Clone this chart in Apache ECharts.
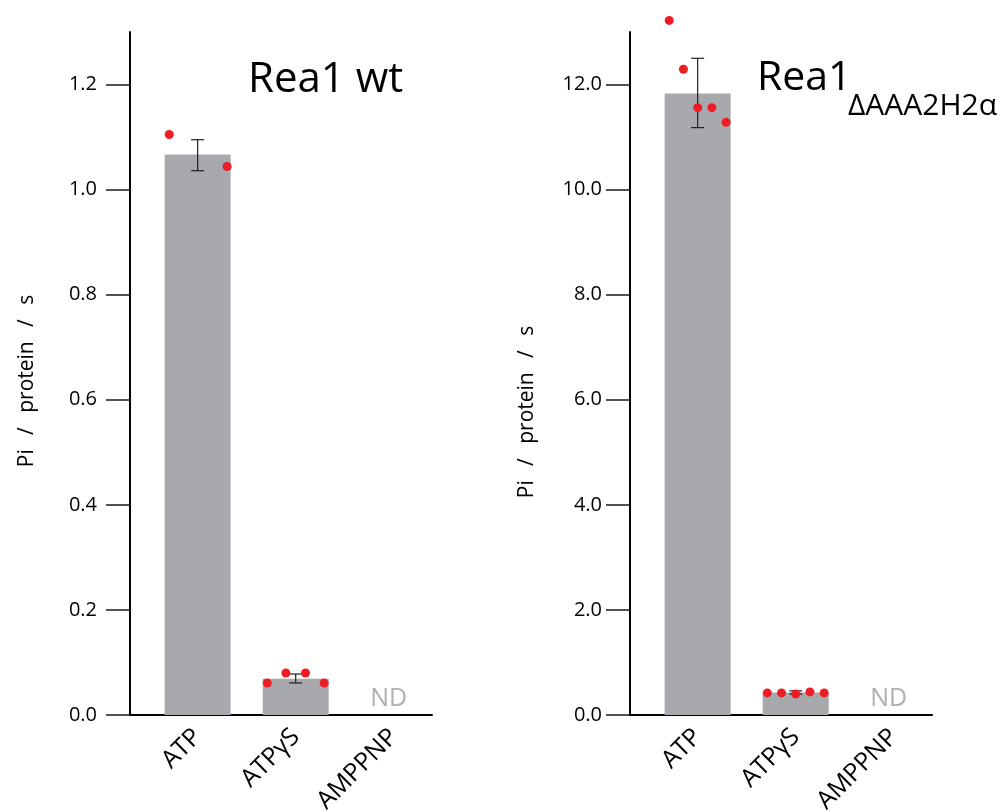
<!DOCTYPE html>
<html>
<head>
<meta charset="utf-8">
<script src="https://cdn.jsdelivr.net/npm/echarts@6/dist/echarts.min.js"></script>
<style>
  html, body { margin: 0; padding: 0; background: #fff; }
  #chart { width: 1004px; height: 812px; }
</style>
</head>
<body>
<div id="chart"></div>
<script>
// ---------- data ----------
const categories = ['ATP', 'ATPγS', 'AMPPNP'];

// Panel 1: Rea1 wt
const wtMean = [1.067, 0.069, null];
const wtErrLow = [1.036, 0.061, null];
const wtErrHigh = [1.095, 0.078, null];
const wtDotCat = [0, 0, 1, 1, 1, 1];
const wtDotJitter = [-0.29, 0.30, -0.29, -0.10, 0.10, 0.29];
const wtDotValue = [1.105, 1.044, 0.061, 0.080, 0.080, 0.061];
const wtTicks = [0, 0.2, 0.4, 0.6, 0.8, 1.0, 1.2];

// Panel 2: Rea1 ΔAAA2H2α
const muMean = [11.83, 0.43, null];
const muErrLow = [11.18, 0.40, null];
const muErrHigh = [12.50, 0.46, null];
const muDotCat = [0, 0, 0, 0, 0, 1, 1, 1, 1, 1];
const muDotJitter = [-0.29, -0.145, 0, 0.145, 0.29, -0.29, -0.145, 0, 0.145, 0.29];
const muDotValue = [13.22, 12.29, 11.56, 11.56, 11.28, 0.42, 0.42, 0.40, 0.44, 0.42];
const muTicks = [0, 2, 4, 6, 8, 10, 12];

const yName = 'Pi  \u2009/  \u2009protein  \u2009/  \u2009s';
const ndText = 'ND';

// ---------- layout / style ----------
const FONT = '"Open Sans", "Noto Sans", sans-serif';
const firstPos = 0.69;        // category centre of first bar on the x value axis
const xMax = 3.08;
const barColor = '#a7a9ac';
const dotColor = '#ee1c25';
const errColor = '#231f20';

const pos = i => firstPos + i;

function barData(mean) {
  return mean.map((v, i) => v == null ? null : [pos(i), v]).filter(d => d);
}
function errData(lo, hi) {
  return lo.map((v, i) => v == null ? null : [pos(i), v, hi[i]]).filter(d => d);
}
function dotData(cat, jit, val) {
  return cat.map((c, i) => [pos(c) + jit[i], val[i]]);
}
function ndData(mean) {
  return mean.map((v, i) => v == null ? [pos(i), 0] : null).filter(d => d);
}

function errRender(params, api) {
  const x = api.value(0);
  const a = api.coord([x, api.value(1)]);
  const b = api.coord([x, api.value(2)]);
  const c = 6.5;
  const st = { stroke: errColor, lineWidth: 1.2 };
  return {
    type: 'group',
    children: [
      { type: 'line', shape: { x1: a[0], y1: a[1], x2: b[0], y2: b[1] }, style: st },
      { type: 'line', shape: { x1: a[0] - c, y1: a[1], x2: a[0] + c, y2: a[1] }, style: st },
      { type: 'line', shape: { x1: b[0] - c, y1: b[1], x2: b[0] + c, y2: b[1] }, style: st }
    ]
  };
}

function xAxisDef(gridIndex) {
  return {
    type: 'value', gridIndex, min: 0, max: xMax,
    axisLine: { show: true, onZero: false, lineStyle: { color: '#000', width: 2 } },
    axisTick: { show: false },
    splitLine: { show: false },
    axisLabel: {
      customValues: categories.map((c, i) => pos(i)),
      rotate: 45, margin: 18, padding: [12, 0, 0, 0],
      fontFamily: FONT, fontSize: 25, color: '#000',
      formatter: v => categories[Math.round(v - firstPos)]
    }
  };
}

function yAxisDef(gridIndex, max, ticks, labelMargin, padRight) {
  return {
    type: 'value', gridIndex, min: 0, max,
    name: yName, nameLocation: 'middle', nameGap: 92,
    nameTextStyle: { fontFamily: FONT, fontSize: 21, color: '#000', padding: [0, padRight, 0, 0] },
    axisLine: { show: true, lineStyle: { color: '#000', width: 2 } },
    axisTick: { show: true, inside: false, length: 24, customValues: ticks,
                lineStyle: { color: '#1a1a1a', width: 1.5 } },
    splitLine: { show: false },
    axisLabel: {
      customValues: ticks, margin: labelMargin,
      fontFamily: FONT, fontSize: 20, color: '#000',
      formatter: v => v.toFixed(1)
    }
  };
}

function panelSeries(idx, mean, lo, hi, cat, jit, val) {
  return [
    {
      type: 'bar', xAxisIndex: idx, yAxisIndex: idx, barWidth: 66,
      itemStyle: { color: barColor }, data: barData(mean)
    },
    {
      type: 'custom', xAxisIndex: idx, yAxisIndex: idx, renderItem: errRender,
      encode: { x: 0, y: [1, 2] }, data: errData(lo, hi), z: 3
    },
    {
      type: 'scatter', xAxisIndex: idx, yAxisIndex: idx, symbolSize: 9, clip: false,
      itemStyle: { color: dotColor, opacity: 1 }, data: dotData(cat, jit, val), z: 4
    },
    {
      type: 'scatter', xAxisIndex: idx, yAxisIndex: idx, symbolSize: 0,
      label: { show: true, position: 'top', distance: 4, offset: [-5, 0], formatter: ndText,
               fontFamily: FONT, fontSize: 25, color: '#9a9b9e' },
      data: ndData(mean)
    }
  ];
}

const chart = echarts.init(document.getElementById('chart'), null, { renderer: 'canvas' });
chart.setOption({
  animation: false,
  backgroundColor: '#fff',
  title: [
    { text: 'Rea1 wt', left: 248, top: 59, padding: 0,
      textStyle: { fontFamily: FONT, fontSize: 42, fontWeight: 'normal', color: '#000' } },
    { text: 'Rea1', left: 757, top: 58, padding: 0,
      textStyle: { fontFamily: FONT, fontSize: 41, fontWeight: 'normal', color: '#000' } },
    { text: 'ΔAAA2H2α', left: 848, top: 91, padding: 0,
      textStyle: { fontFamily: FONT, fontSize: 30, fontWeight: 'normal', color: '#000' } }
  ],
  grid: [
    { left: 130, top: 32, width: 302, height: 683, outerBoundsMode: 'none', containLabel: false },
    { left: 630, top: 32, width: 302, height: 683, outerBoundsMode: 'none', containLabel: false }
  ],
  xAxis: [xAxisDef(0), xAxisDef(1)],
  yAxis: [yAxisDef(0, 1.3, wtTicks, 33, 15), yAxisDef(1, 13, muTicks, 28, 77)],
  series: [
    ...panelSeries(0, wtMean, wtErrLow, wtErrHigh, wtDotCat, wtDotJitter, wtDotValue),
    ...panelSeries(1, muMean, muErrLow, muErrHigh, muDotCat, muDotJitter, muDotValue)
  ]
});
</script>
</body>
</html>
